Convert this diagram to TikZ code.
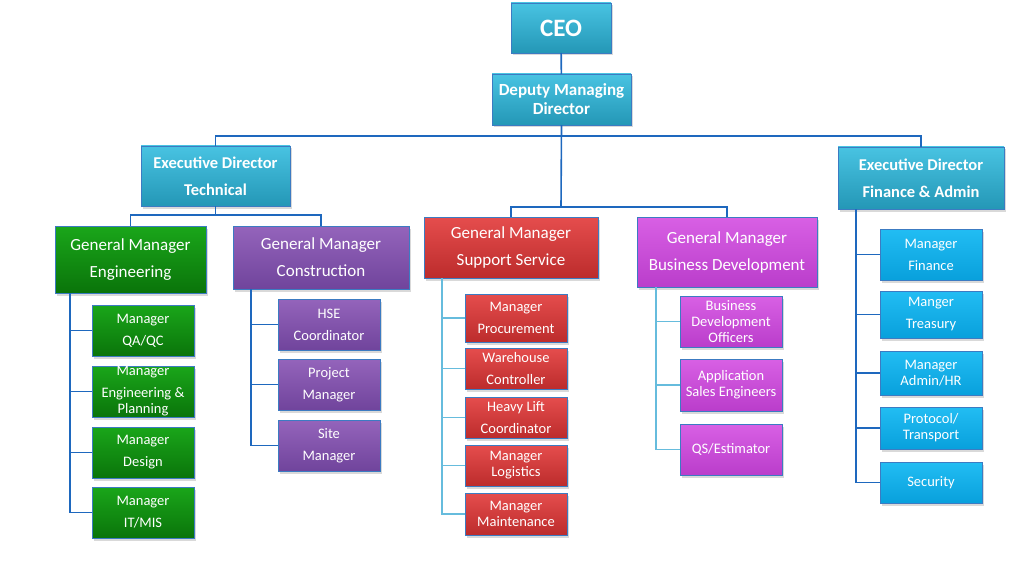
\documentclass[tikz,border=0pt]{standalone}
\usepackage{fontspec}
\setmainfont{Carlito}
\usetikzlibrary{shadows}
\definecolor{boxline}{HTML}{3C7BC2}
\definecolor{linkdark}{HTML}{1E68BE}
\definecolor{linklight}{HTML}{66BCDD}
\definecolor{execTop}{HTML}{48C3E2}
\definecolor{execBot}{HTML}{2497B6}
\definecolor{finTop}{HTML}{22BDF3}
\definecolor{finBot}{HTML}{08A0DC}
\definecolor{engTop}{HTML}{1AA61A}
\definecolor{engBot}{HTML}{0A740A}
\definecolor{conTop}{HTML}{9464BB}
\definecolor{conBot}{HTML}{70449C}
\definecolor{supTop}{HTML}{E54D4D}
\definecolor{supBot}{HTML}{BC2C2C}
\definecolor{bizTop}{HTML}{D860E4}
\definecolor{bizBot}{HTML}{BA3DCB}

\begin{document}
\begin{tikzpicture}[x=1pt,y=-1pt,
  wh/.style 2 args={minimum width=#1pt,minimum height=#2pt},
  box/.style={draw=boxline,line width=0.9pt,inner sep=0pt,outer sep=0pt,text=white,align=center,
    drop shadow={shadow xshift=2pt,shadow yshift=-2.5pt,opacity=0.3}},
  exec/.style={box,top color=execTop,bottom color=execBot,font=\bfseries\fontsize{16.5}{27}\selectfont},
  gm/.style={box,font=\fontsize{17}{27}\selectfont},
  kid/.style={box,font=\fontsize{14.5}{16}\selectfont},
  airy/.style={font=\fontsize{14.5}{22}\selectfont},
  fincol/.style={top color=finTop,bottom color=finBot},
  engcol/.style={top color=engTop,bottom color=engBot},
  concol/.style={top color=conTop,bottom color=conBot},
  supcol/.style={top color=supTop,bottom color=supBot},
  bizcol/.style={top color=bizTop,bottom color=bizBot},
  link/.style={draw=linkdark,line width=1.6pt},
  sublink/.style={draw=linklight,line width=1.1pt}]
  \useasboundingbox (0,0) rectangle (1024,580);

  \node[exec,wh={100}{50},font=\bfseries\fontsize{25}{30}\selectfont] (ceo) at (561,28) {CEO};
  \node[exec,wh={139}{51},font=\bfseries\fontsize{17}{19}\selectfont] (dmd) at (561.5,99.5) {Deputy Managing\\Director};
  \node[exec,wh={149}{60}] (edtech) at (215.5,176) {Executive Director\\Technical};
  \node[exec,wh={166}{62}] (edfin) at (921,178) {Executive Director\\Finance \& Admin};

  \node[gm,engcol,wh={151}{67}] (gmeng) at (130.5,259.5) {General Manager\\Engineering};
  \node[gm,concol,wh={176}{63}] (gmcon) at (321,257.5) {General Manager\\Construction};
  \node[gm,supcol,wh={174}{61}] (gmsup) at (511,247.5) {General Manager\\Support Service};
  \node[gm,bizcol,wh={180}{70}] (gmbiz) at (727,252) {General Manager\\Business Development};

  \node[kid,airy,engcol,wh={102}{51}] (qaqc) at (143,330.5) {Manager\\QA/QC};
  \node[kid,engcol,wh={102}{51}] (engplan) at (143,391.5) {Manager\\[6pt]Engineering \&\\Planning};
  \node[kid,airy,engcol,wh={102}{51}] (design) at (143,452.5) {Manager\\Design};
  \node[kid,airy,engcol,wh={102}{51}] (itmis) at (143,512.5) {Manager\\IT/MIS};

  \node[kid,airy,concol,wh={102}{51}] (hse) at (329,324.5) {HSE\\Coordinator};
  \node[kid,airy,concol,wh={102}{51}] (projman) at (329,384.5) {Project\\Manager};
  \node[kid,airy,concol,wh={102}{51}] (siteman) at (329,445.5) {Site\\Manager};

  \node[kid,airy,supcol,wh={102}{48}] (procure) at (516,318) {Manager\\Procurement};
  \node[kid,airy,supcol,wh={102}{41}] (warehouse) at (516,368.5) {Warehouse\\Controller};
  \node[kid,airy,supcol,wh={102}{41}] (heavylift) at (516,417.5) {Heavy Lift\\Coordinator};
  \node[kid,supcol,wh={102}{41}] (logistics) at (516,465.5) {Manager\\Logistics};
  \node[kid,supcol,wh={102}{42}] (maint) at (516,514) {Manager\\Maintenance};

  \node[kid,bizcol,wh={102}{51}] (bdoff) at (731,321.5) {Business\\Development\\Officers};
  \node[kid,bizcol,wh={102}{52}] (appsales) at (731,385) {Application\\Sales Engineers};
  \node[kid,bizcol,wh={102}{51}] (qsest) at (731,449.5) {QS/Estimator};

  \node[kid,airy,fincol,wh={102}{51}] (finance) at (931,254.5) {Manager\\Finance};
  \node[kid,airy,fincol,wh={102}{47}] (treasury) at (931,314.5) {Manger\\Treasury};
  \node[kid,fincol,wh={102}{44}] (adminhr) at (931,373) {Manager\\Admin/HR};
  \node[kid,fincol,wh={102}{42}] (protocol) at (931,428) {Protocol/\\Transport};
  \node[kid,fincol,wh={102}{41}] (security) at (931,482.5) {Security};

  \coordinate (topbus) at (561,136);
  \coordinate (midbus) at (561,207);
  \coordinate (techbus) at (215.5,215);
  \coordinate (engbus) at (70,0);
  \coordinate (conbus) at (251,0);
  \coordinate (supbus) at (442,0);
  \coordinate (bizbus) at (656,0);
  \coordinate (finbus) at (856,0);

  \draw[link] (ceo) -- (dmd);
  \draw[link] (dmd.south) -- (midbus);
  \draw[link] (edtech.north) |- (topbus) -| (edfin.north);
  \draw[link] (gmsup.north) |- (midbus) -| (gmbiz.north);
  \draw[link] (edtech.south) -- (techbus);
  \draw[link] (gmeng.north) |- (techbus) -| (gmcon.north);

  \draw[link] (gmeng.south -| engbus) |- (qaqc.west) (gmeng.south -| engbus) |- (engplan.west)
    (gmeng.south -| engbus) |- (design.west) (gmeng.south -| engbus) |- (itmis.west);
  \draw[link] (gmcon.south -| conbus) |- (hse.west) (gmcon.south -| conbus) |- (projman.west)
    (gmcon.south -| conbus) |- (siteman.west);
  \draw[sublink] (gmsup.south -| supbus) |- (procure.west) (gmsup.south -| supbus) |- (warehouse.west)
    (gmsup.south -| supbus) |- (heavylift.west) (gmsup.south -| supbus) |- (logistics.west)
    (gmsup.south -| supbus) |- (maint.west);
  \draw[sublink] (gmbiz.south -| bizbus) |- (bdoff.west) (gmbiz.south -| bizbus) |- (appsales.west)
    (gmbiz.south -| bizbus) |- (qsest.west);
  \draw[link] (edfin.south -| finbus) |- (finance.west) (edfin.south -| finbus) |- (treasury.west)
    (edfin.south -| finbus) |- (adminhr.west) (edfin.south -| finbus) |- (protocol.west)
    (edfin.south -| finbus) |- (security.west);
\end{tikzpicture}
\end{document}
